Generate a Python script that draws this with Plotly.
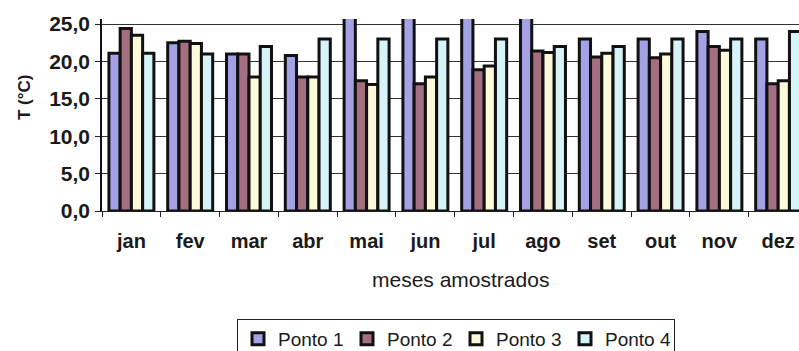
import plotly.graph_objects as go

# Monthly water temperature (°C) at four sampling points
meses = ["jan", "fev", "mar", "abr", "mai", "jun", "jul", "ago", "set", "out", "nov", "dez"]
ponto1 = [21.1, 22.5, 21.0, 20.8, 26.0, 26.0, 26.0, 26.0, 23.0, 23.0, 24.0, 23.0]
ponto2 = [24.4, 22.7, 21.0, 17.9, 17.4, 17.0, 18.9, 21.4, 20.6, 20.5, 22.0, 17.0]
ponto3 = [23.5, 22.4, 17.9, 17.9, 16.9, 17.9, 19.4, 21.2, 21.1, 21.0, 21.5, 17.4]
ponto4 = [21.1, 21.0, 22.0, 23.0, 23.0, 23.0, 23.0, 22.0, 22.0, 23.0, 23.0, 24.0]

y_ticks = [0, 5, 10, 15, 20, 25]
y_tick_text = ["0,0", "5,0", "10,0", "15,0", "20,0", "25,0"]

series = [
    ("Ponto 1", ponto1, "#a3a2e6"),
    ("Ponto 2", ponto2, "#a46f80"),
    ("Ponto 3", ponto3, "#fcf8da"),
    ("Ponto 4", ponto4, "#d6f3f8"),
]

FONT = "Liberation Sans, Arial, sans-serif"

fig = go.Figure()
for name, vals, color in series:
    fig.add_trace(go.Bar(
        x=meses, y=vals, name=name,
        marker=dict(color=color, line=dict(color="#111111", width=3)),
    ))

fig.update_layout(
    width=799, height=351,
    margin=dict(l=102, r=0, t=19, b=140),
    paper_bgcolor="white", plot_bgcolor="white",
    barmode="group", bargap=0.235, bargroupgap=0,
    font=dict(family=FONT, color="#1a1a1a"),
    showlegend=True,
    legend=dict(
        orientation="h",
        xref="container", yref="container",
        x=456 / 799, xanchor="center",
        y=1 - 319 / 351, yanchor="top",
        bordercolor="#222222", borderwidth=1,
        font=dict(size=19, family=FONT, color="#1a1a1a"),
        entrywidth=64, itemwidth=30,
        tracegroupgap=0,
    ),
)

fig.update_xaxes(
    range=[-0.5, 11.354],
    tickson="boundaries",
    ticks="outside", ticklen=5, tickcolor="#222222", tickwidth=1,
    showgrid=False,
    showline=True, linecolor="#222222", linewidth=1,
    tickfont=dict(size=20, family=FONT, color="#1a1a1a", weight="bold"),
    ticklabelstandoff=12,
)

fig.update_yaxes(
    range=[0, 25.67],
    tickvals=y_ticks, ticktext=y_tick_text,
    ticks="outside", ticklen=5, tickcolor="#222222", tickwidth=1,
    showgrid=True, gridcolor="#333333", gridwidth=1,
    showline=True, linecolor="#111111", linewidth=1.5,
    zeroline=False,
    tickfont=dict(size=21, family=FONT, color="#1a1a1a", weight="bold"),
    ticklabelstandoff=1,
)

# Axis titles
fig.add_annotation(
    text="meses amostrados", xref="paper", yref="paper",
    x=(460 - 102) / 697, y=(211 - 279) / 192,
    xanchor="center", yanchor="middle", showarrow=False,
    font=dict(size=21, family=FONT, color="#1a1a1a"),
)
fig.add_annotation(
    text="T (°C)", xref="paper", yref="paper",
    x=(24 - 102) / 697, y=(211 - 97) / 192,
    xanchor="center", yanchor="middle", showarrow=False, textangle=-90,
    font=dict(size=17, family=FONT, color="#1a1a1a", weight="bold"),
)

fig.write_html("out.html")
